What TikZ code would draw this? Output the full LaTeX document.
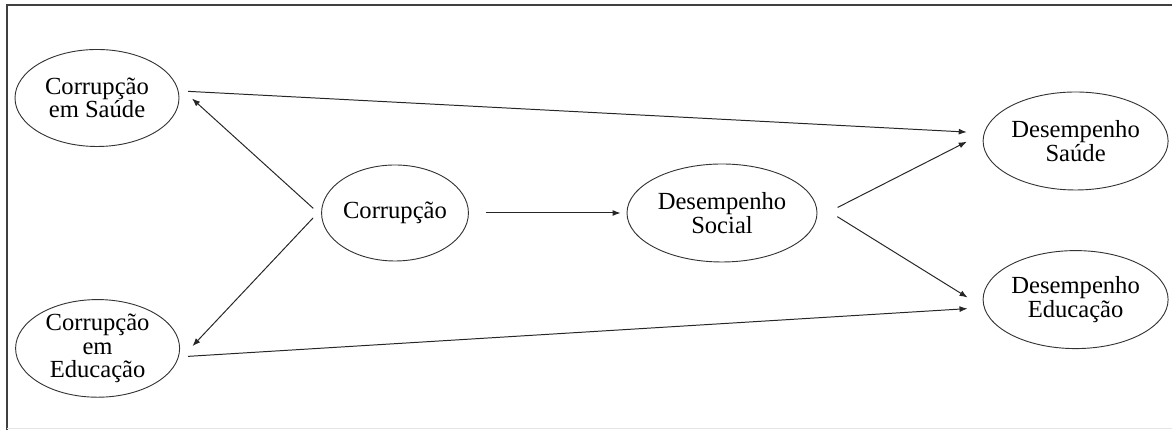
\documentclass[tikz,border=0pt]{standalone}
\usepackage{fontspec}
\setmainfont{Liberation Serif}
\usetikzlibrary{arrows.meta,shapes.geometric}

\begin{document}
\begin{tikzpicture}[>={Latex[length=2mm,width=1.5mm]},
        construct/.style={ellipse, draw=black!80, line width=0.65pt, inner sep=0pt,
            align=center, font=\fontsize{17.5}{16.8}\selectfont},
        link/.style={->, line width=0.7pt, draw=black!85}]

    \useasboundingbox (0,0) rectangle (29.3,10.75);

    % Frame round the model (top and left edges only).
    \draw[line width=1.4pt, black!75] (29.3,10.625) -- (0.175,10.625) -- (0.175,0);
    \draw[line width=0.4pt, black!10] (0.175,0.05) -- (29.3,0.05);

    % The corruption constructs on the left.
    \node[construct, minimum width=4.1cm, minimum height=2.425cm] (cs) at (2.425, 8.3)
        {Corrupção\\em Saúde};
    \node[construct, minimum width=4.1cm, minimum height=2.425cm] (ce) at (2.44, 2.04)
        {Corrupção\\em\\Educação};
    \node[construct, minimum width=3.6cm, minimum height=2.4cm] (cor) at (9.875, 5.425)
        {Corrupção};

    % The performance constructs.
    \node[construct, minimum width=4.75cm, minimum height=2.45cm] (dso) at (18.05, 5.425)
        {Desempenho\\Social};
    \node[construct, minimum width=4.625cm, minimum height=2.45cm] (dsa) at (26.89, 7.225)
        {Desempenho\\Saúde};
    \node[construct, minimum width=4.625cm, minimum height=2.45cm] (ded) at (26.89, 3.26)
        {Desempenho\\Educação};

    % Paths from corruption to its two parts.
    \draw[link, shorten <=0.27cm, shorten >=0.54cm] (cor.182) -- (cs.10);
    \draw[link, shorten <=0.30cm, shorten >=0.60cm] (cor.177) -- (ce.-11);

    % Paths into the performance constructs.
    \draw[link, shorten <=0.425cm, shorten >=0.15cm] (cor.east) -- (dso.west);
    \draw[link, shorten <=0.58cm, shorten >=0.48cm] (dso.-3) -- (dsa.175);
    \draw[link, shorten <=0.64cm, shorten >=0.48cm] (dso.6) -- (ded.185);
    \draw[link, shorten <=0.24cm, shorten >=0.43cm] (cs.5) -- (dsa.175);
    \draw[link, shorten <=0.23cm, shorten >=0.41cm] (ce.-6) -- (ded.185);
\end{tikzpicture}
\end{document}
